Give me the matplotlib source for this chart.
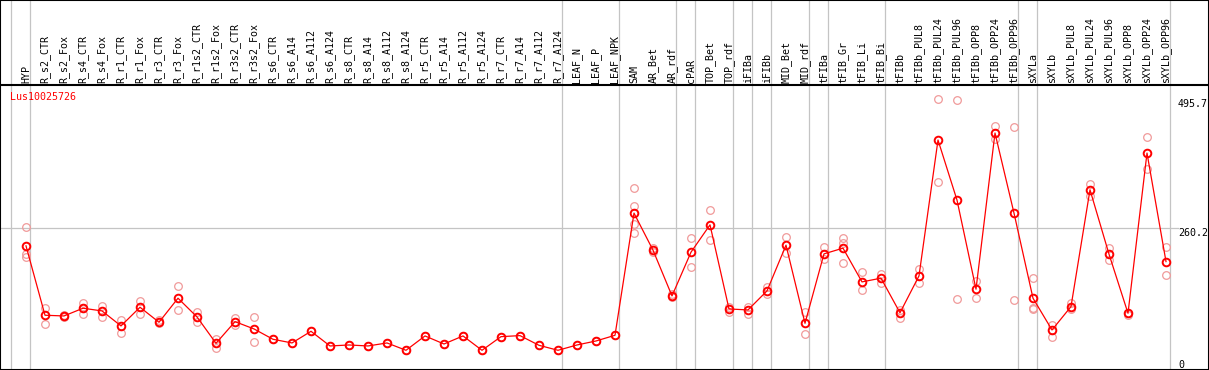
import numpy as np
import matplotlib
matplotlib.use('Agg')
from matplotlib import pyplot as plt
from matplotlib.transforms import blended_transform_factory

gene = 'Lus10025726'

samples = ['HYP', 'R_s2_CTR', 'R_s2_Fox', 'R_s4_CTR', 'R_s4_Fox', 'R_r1_CTR', 'R_r1_Fox',
           'R_r3_CTR', 'R_r3_Fox', 'R_r1s2_CTR', 'R_r1s2_Fox', 'R_r3s2_CTR', 'R_r3s2_Fox',
           'R_s6_CTR', 'R_s6_A14', 'R_s6_A112', 'R_s6_A124', 'R_s8_CTR', 'R_s8_A14',
           'R_s8_A112', 'R_s8_A124', 'R_r5_CTR', 'R_r5_A14', 'R_r5_A112', 'R_r5_A124',
           'R_r7_CTR', 'R_r7_A14', 'R_r7_A112', 'R_r7_A124', 'LEAF_N', 'LEAF_P', 'LEAF_NPK',
           'SAM', 'AR_Bet', 'AR_rdf', 'cPAR', 'TOP_Bet', 'TOP_rdf', 'iFIBa', 'iFIBb',
           'MID_Bet', 'MID_rdf', 'tFIBa', 'tFIB_Gr', 'tFIB_Li', 'tFIB_Bi', 'tFIBb',
           'tFIBb_PUL8', 'tFIBb_PUL24', 'tFIBb_PUL96', 'tFIBb_OPP8', 'tFIBb_OPP24',
           'tFIBb_OPP96', 'sXYLa', 'sXYLb', 'sXYLb_PUL8', 'sXYLb_PUL24', 'sXYLb_PUL96',
           'sXYLb_OPP8', 'sXYLb_OPP24', 'sXYLb_OPP96']

# mean expression per sample
means = [226.7, 100.0, 98.7, 112.8, 107.9, 80.5, 114.6, 87.2, 131.1, 96.9, 48.8, 88.3, 75.0,
         56.1, 49.4, 70.7, 43.9, 45.7, 43.9, 49.4, 36.0, 62.2, 47.5, 62.2, 36.0,
         60.9, 62.8, 45.1, 36.0, 45.7, 53.0, 63.4,
         286.5, 218.9, 135.3, 215.2, 265.1, 111.5, 109.7, 144.5,
         228.0, 85.3, 212.1, 222.5, 160.9, 167.7, 104.5,
         171.9, 420.0, 310.3, 147.6, 432.8, 286.5,
         131.1, 73.1, 115.8, 329.1, 211.6, 103.6, 396.2, 198.0]

# individual replicates
reps = [[261.5, 212.0, 206.0], [113.4, 84.7], [100.5, 97.0], [123.1, 101.8, 113.5],
        [117.6, 96.3], [90.8, 68.3], [126.2, 102.4], [91.4, 85.3], [153.0, 109.2],
        [106.6, 88.3], [57.3, 39.6], [95.7, 81.7], [96.3, 51.8],
        [56.1], [49.4], [70.7], [43.9], [45.7], [43.9], [49.4], [36.0], [62.2], [47.5],
        [62.2], [36.0], [60.9], [62.8], [45.1], [36.0], [45.7], [53.0], [63.4],
        [332.2, 299.9, 266.4, 249.9], [222.5, 216.4], [139.0, 132.9], [241.4, 187.8],
        [292.6, 237.1], [115.8, 105.5], [115.8, 101.8], [151.2, 138.4],
        [243.2, 213.4], [106.1, 65.2], [224.9, 202.4], [241.4, 231.6, 195.6],
        [179.2, 145.7], [176.1, 159.6], [109.7, 95.1],
        [184.7, 158.5], [495.7, 343.2], [493.1, 129.3], [162.7, 131.1], [445.6, 421.8],
        [443.8, 128.0],
        [167.7, 112.8, 111.0], [82.3, 60.9], [121.9, 111.0], [339.6, 316.9],
        [223.1, 201.1], [104.8, 100.0], [425.5, 367.5], [224.3, 173.2]]

# group boundaries (drawn after these sample indices)
group_ends = [-1, 0, 28, 31, 34, 35, 37, 38, 39, 41, 42, 45, 52, 53, 60]

y_max = 495.7
y_mid = 260.2

W, H = 1209, 370
fig = plt.figure(figsize=(W / 100, H / 100), dpi=100)
plt.rcParams['font.family'] = 'DejaVu Sans Mono'

head_h = 85
x0 = -26 / 19
x1 = (W - 26) / 19

ax = fig.add_axes([0, 0, 1, (H - head_h) / H])
hd = fig.add_axes([0, (H - head_h) / H, 1, head_h / H], sharex=ax)

x = np.arange(len(samples))

for a in (ax, hd):
    for g in group_ends:
        a.axvline(g + 0.23, color='#c4c4c4', lw=0.9, zorder=0)
    a.set_xticks([])
    a.set_yticks([])
    for s in a.spines.values():
        s.set_color('black')
        s.set_linewidth(1.5)
ax.spines['top'].set_visible(False)

ax.set_xlim(x0, x1)
ax.set_ylim(0, y_max * 1.05)
hd.set_ylim(0, 1)

ax.axhline(y_mid, xmin=0, xmax=1178 / W, color='#c4c4c4', lw=0.9, zorder=0)

for i, r in enumerate(reps):
    ax.plot([i] * len(r), r, 'o', ms=5.5, mfc='none', mec='#f09a9a', mew=0.9, zorder=2)

ax.plot(x, means, '-', color='red', lw=0.9, zorder=3)
ax.plot(x, means, 'o', ms=5.5, mfc='none', mec='red', mew=1.4, zorder=4)

for i, s in enumerate(samples):
    hd.text(i, 0.025, s, rotation=90, ha='center', va='bottom', fontsize=7.2)

fig.text(10 / W, 1 - 97 / H, gene, color='red', fontsize=7.2, va='center', ha='left')

tr = blended_transform_factory(fig.transFigure, ax.transData)
ax.text(1178 / W, y_max, '%.1f' % y_max, transform=tr, fontsize=7.2, va='top', ha='left')
ax.text(1178 / W, y_mid, '%.1f' % y_mid, transform=tr, fontsize=7.2, va='top', ha='left')
ax.text(1178 / W, 0, '0', transform=tr, fontsize=7.2, va='bottom', ha='left')

fig.savefig('out.png', dpi=100)
